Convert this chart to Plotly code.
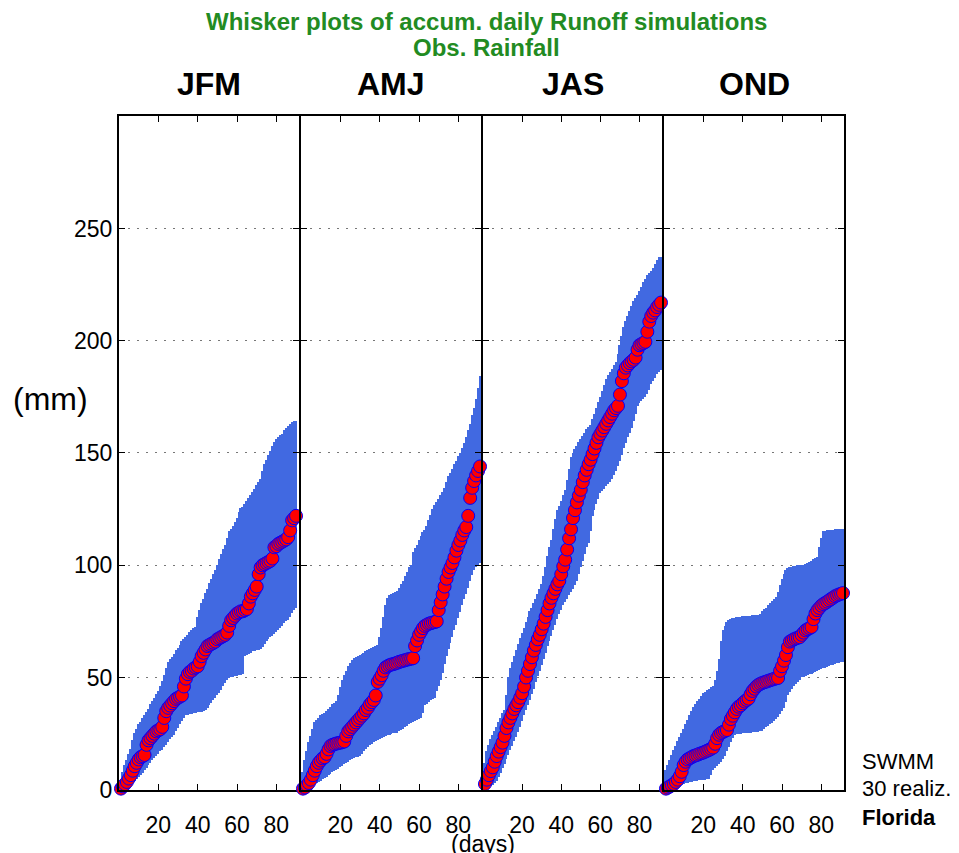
import plotly.graph_objects as go

# ---------------------------------------------------------------------------
# Accumulated daily runoff (mm): observed-rainfall run (OBS) and the
# min/max envelope (LO/HI) of the 30 SWMM realizations, one value per day.
# ---------------------------------------------------------------------------
SEASONS = ["JFM", "AMJ", "JAS", "OND"]

JFM_OBS = [0.5, 1.5, 2.5, 3.5, 5, 6.5, 8.5, 10.5, 12, 13.5, 14.5, 15, 15.5, 20, 22,
           23, 24, 25, 26, 26.5, 27, 28, 32, 35, 36.5, 37.5, 38.5, 39.5, 40.5, 41,
           41.5, 42, 46, 49.5, 51.5, 52.5, 53, 54, 54.5, 55, 57, 59.5, 61, 62.5, 64,
           64.5, 65, 65.5, 66, 67, 67.5, 68, 68.5, 69, 70, 73, 75.5, 76.5, 77.5, 78.5,
           79, 79.5, 79.5, 80, 80.5, 83, 86, 87.5, 89, 90.5, 96, 99, 100, 100.5, 101,
           101.5, 102, 103, 108, 108.5, 109.5, 110, 110.5, 111, 111.5, 112.5, 115.5, 120, 121, 122]
JFM_LO = [0, 0, 0.3, 0.6, 1, 2, 3, 4, 4.8, 5.5, 6.5, 7.5, 8.5, 9.5, 11,
          12, 13, 14, 15, 16, 17, 17.5, 19, 20, 21, 22.5, 23.5, 24.5, 26, 27.5,
          29, 30.5, 32, 33, 33, 33.5, 33.5, 34, 34, 34.5, 34.5, 34.5, 35, 35.5, 36.5,
          37.5, 38.5, 40, 41, 42, 43, 44.5, 46, 47.5, 49, 49.5, 50, 50, 50.5, 50.5,
          51, 51, 51.5, 59.5, 60, 60.5, 61, 61.5, 61.5, 62, 62, 62.5, 63.5, 65, 66,
          67, 68, 68.5, 69.5, 70, 71, 72, 73, 74, 75, 75.5, 77, 78.5, 80, 81]
JFM_HI = [4, 8, 11, 13, 16, 18, 22, 25, 27, 29, 30, 32, 33, 34.5, 36,
          38, 39.5, 41, 42.5, 44, 46, 48.5, 51, 54, 57, 58, 59, 60.5, 62, 63,
          64.5, 66, 67, 68, 69, 70, 71, 72, 72.5, 77, 80, 83, 85, 87.5, 89.5,
          92, 94, 96, 98, 100, 102.5, 105, 107, 109, 112, 115, 116, 117.5, 119, 121,
          123.5, 125.5, 126, 127, 128.5, 130, 131, 132.5, 134, 135.5, 137, 138.5, 142, 145, 147,
          149, 151, 153, 155, 156, 157, 158, 158.5, 160, 161, 162, 163, 163.5, 164, 164]

AMJ_OBS = [0.5, 1, 2, 3, 4.5, 6.5, 8.5, 10.5, 12, 13, 14, 14.5, 16, 18, 19.5,
           20, 20.3, 20.6, 20.8, 21, 21.2, 21.5, 24, 26, 27, 28, 29, 30, 31, 32,
           33, 34, 35.5, 36.5, 38, 39, 40, 42, 48, 49.5, 51, 53, 54.5, 55, 55.5,
           55.8, 56, 56.3, 56.6, 57, 57.2, 57.5, 57.7, 58, 58.2, 58.4, 58.6, 64, 66.5, 69,
           70.5, 72, 73, 73.5, 74, 74.2, 74.5, 74.7, 75, 80, 83.5, 87, 90.5, 94, 97,
           99, 101, 103.5, 106.5, 109, 111, 113.5, 115.5, 117, 122, 130, 134.5, 137.5, 140, 142, 144]
AMJ_LO = [0, 0, 0.5, 1.3, 1.8, 2.2, 2.6, 3, 3.5, 4, 4.5, 5, 5.8, 6.5, 7,
          7.7, 8.3, 8.7, 9.3, 10, 10.7, 11.3, 12, 12.5, 13, 13.5, 14, 14.3, 14.7, 15,
          16, 17, 18, 19, 20, 20.5, 21, 21.5, 22, 22.5, 23, 23.5, 24, 24.3, 24.5,
          24.8, 25, 25.2, 25.3, 26, 26.5, 27, 27.7, 28.4, 29, 29.5, 30, 30.5, 31, 31.5,
          32, 34, 37.6, 38.3, 39, 39.7, 40.3, 41, 44, 46, 49, 52, 56, 59.5, 62.5,
          65.5, 68, 71, 73.5, 76.5, 79, 82, 85, 87.3, 90, 93, 95.5, 98, 99, 100, 101]
AMJ_HI = [8, 13, 17, 21, 24, 27, 30, 31, 32, 33, 33.5, 34, 35, 36, 37,
          38, 38.5, 39.5, 42, 45.5, 49, 51, 53, 55, 56.5, 57.5, 58.5, 59, 59.5, 60,
          60.5, 61, 61.5, 62, 62.5, 63, 63.5, 64, 64.6, 68, 72, 77, 82, 85.5, 86.5,
          87, 87.5, 88, 88.6, 90, 91.5, 93, 95, 97, 99, 100, 106, 107.5, 109, 111,
          113, 114.5, 115.5, 117.5, 120, 122.5, 125, 126.6, 128, 129.5, 131, 132.5, 134.5, 137, 139.5,
          141, 143, 145, 146.5, 148.5, 150, 152, 154.5, 157, 160, 163, 167, 170, 174, 179, 184]

JAS_OBS = [2.6, 4.5, 6.5, 8.3, 10, 12.5, 15, 17, 19, 21, 24, 27.5, 30, 32, 34,
           36, 37.6, 39, 41, 43, 46, 50, 53, 56, 59, 62, 64.5, 67, 69, 71.5,
           74, 77, 80, 83, 85.5, 87.5, 89.5, 91.5, 93, 96, 99.5, 102.5, 107, 112, 116,
           121, 124.5, 128, 131, 133.6, 137, 140, 142.5, 145, 147, 149.5, 152, 154.5, 157, 158.5,
           160, 161.5, 163, 164.5, 166, 167.5, 169, 170, 171, 176, 182, 185.5, 188, 189, 190,
           190.8, 191.5, 192.5, 196, 198, 198.5, 199, 199.5, 204, 208.5, 211, 212.5, 213.5, 215, 216, 217]
JAS_LO = [0, 0.5, 1, 1.5, 2, 3, 4, 5.5, 7.5, 9.5, 11.5, 13.5, 15.5, 17.5, 19.6,
          21.5, 23.5, 25.8, 28, 30.5, 33, 35.4, 37.5, 40, 42.5, 45, 47.8, 50.5, 53, 55.5,
          58, 61, 64, 66, 68.5, 71, 73.5, 76, 78, 80, 82, 83.5, 85, 86.5, 88,
          89.5, 91, 93, 96, 99, 102, 105, 108, 110, 115, 122, 124.5, 127, 129.5, 132,
          133, 134, 135, 136, 137, 138.4, 140, 142, 144, 146.5, 149, 152, 154.5, 157, 159,
          161, 164, 167.5, 171, 172, 173, 174, 175, 176, 178, 180.6, 182, 183.5, 185, 186, 187]
JAS_HI = [12, 17, 20, 22.5, 24.5, 26, 28, 30, 32, 34, 35.5, 42, 50, 54, 57,
          59.5, 62, 65, 67.5, 69.6, 72, 74.5, 77, 79.5, 81, 83, 85, 87, 89.5, 91.5,
          95, 99, 104, 108, 111, 116, 120.5, 124.5, 126.5, 128.5, 131, 133.6, 138, 143, 148,
          150, 151.5, 153, 154.8, 156, 157.5, 159, 160.5, 161.5, 162.6, 165, 167.5, 170, 172.5, 175,
          177.5, 180, 183, 184.5, 186, 187.5, 189, 190.5, 194, 198, 202, 206, 208.5, 211, 213,
          215.5, 217.5, 219, 220.5, 222, 224, 226, 227.5, 229, 230, 231, 232.5, 234, 236, 237, 237]

OND_OBS = [0.5, 1, 1.5, 2, 2.6, 3.5, 4.5, 6, 8, 11, 12.5, 13.5, 14, 14.5, 15,
           15.3, 15.6, 16, 16.3, 16.6, 17, 17.4, 17.8, 18.3, 18.8, 20.5, 23, 24.5, 25.3, 25.8,
           26.2, 26.6, 29, 31.5, 33, 34.5, 36, 37, 37.6, 38.5, 39.3, 40, 40.6, 42.5, 44,
           45, 46, 46.7, 47.2, 47.6, 47.9, 48.2, 48.5, 48.8, 49.1, 49.4, 49.6, 49.8, 53, 55,
           57.5, 60, 63.5, 66, 66.5, 67, 67.4, 67.7, 68, 69, 70, 71, 71.5, 72, 72.5,
           76, 78.5, 80, 81, 82, 82.7, 83.2, 83.8, 84.4, 85, 85.6, 86.2, 86.6, 87, 87.3, 87.6]
OND_LO = [0, 0, 0, 0, 0.3, 0.6, 1, 1.5, 2, 2.5, 2.8, 3, 3.2, 3.4, 3.6,
          3.8, 4, 4.1, 4.2, 4.3, 4.4, 4.5, 4.6, 6.5, 8.7, 9.5, 10.5, 11.5, 12.5, 13.5,
          15, 17, 19, 21, 23, 24.5, 24.7, 24.8, 24.9, 25, 25.1, 25.2, 25.3, 25.4, 25.5,
          25.6, 25.7, 25.8, 25.9, 26, 27, 28, 28.5, 29, 29.8, 30.5, 31.5, 32.5, 33.5, 35,
          36.5, 39, 42, 43.5, 45, 46, 47, 48, 49, 50, 50.3, 50.6, 51, 51.3, 51.6,
          52, 52.4, 52.8, 53.2, 53.6, 54, 54.3, 54.6, 55, 55.3, 55.6, 55.9, 56.2, 56.4, 56.6, 56.8]
OND_HI = [8.7, 11, 13, 15.5, 17.5, 19.5, 21.5, 23.5, 25, 27, 29, 31, 33, 35, 37,
          38, 39.5, 40.5, 41.5, 42.8, 43.5, 44.3, 45, 45.7, 46.3, 49, 53, 58, 66, 71,
          73, 74.5, 75.5, 76, 76.4, 76.6, 76.8, 77, 77, 77.2, 77.3, 77.4, 77.5, 77.5, 77.6,
          77.6, 77.7, 77.7, 78, 79.5, 80.5, 81, 82, 83, 84, 85, 85.6, 88, 91, 94,
          96, 98, 98.5, 99, 99.3, 99.5, 99.7, 99.9, 100, 100.1, 100.2, 100.4, 101, 101.5, 102,
          102.5, 103, 103.5, 108, 112, 115, 115.3, 115.5, 115.6, 115.7, 115.8, 115.9, 116, 116, 116, 116]

SERIES = {
    "JFM": (JFM_OBS, JFM_LO, JFM_HI),
    "AMJ": (AMJ_OBS, AMJ_LO, AMJ_HI),
    "JAS": (JAS_OBS, JAS_LO, JAS_HI),
    "OND": (OND_OBS, OND_LO, OND_HI),
}

Y_TICKS = [0, 50, 100, 150, 200, 250]
X_TICKS = [20, 40, 60, 80]

# ---------------------------------------------------------------------------
# Page geometry (pixels) and styling
# ---------------------------------------------------------------------------
W, H = 959, 853
EDGES = [118, 300, 482, 663, 845]   # panel border lines
TOP, BOTTOM = 117, 803
LW = 2                              # border line width
FONT = "Liberation Sans, Arial, Helvetica, sans-serif"
BAND = "#4169E1"
TITLE_GREEN = "#228B22"


def px_x(v):
    return v / W


def px_y(v):
    return 1 - v / H


fig = go.Figure()
layout = {}

for i, season in enumerate(SEASONS):
    obs, lo, hi = SERIES[season]
    days = list(range(1, len(obs) + 1))
    n = "" if i == 0 else str(i + 1)
    xa, ya = "x" + n, "y" + n

    fig.add_trace(go.Bar(
        x=days, y=[h - l for h, l in zip(hi, lo)], base=lo, width=1,
        marker=dict(color=BAND, line=dict(width=0)),
        xaxis=xa, yaxis=ya, showlegend=False, hoverinfo="skip",
    ))
    fig.add_trace(go.Scatter(
        x=days, y=obs, mode="markers", cliponaxis=False,
        marker=dict(size=13, color="#FF0000", line=dict(color="#0000FF", width=1)),
        xaxis=xa, yaxis=ya, showlegend=False,
    ))

    # axis lines sit half a line width outside the domain, so neighbouring
    # panels share one border line
    layout["xaxis" + n] = dict(
        domain=[px_x(EDGES[i] + LW / 2), px_x(EDGES[i + 1] - LW / 2)], anchor=ya,
        range=[0, 91.5], tickvals=X_TICKS, ticks="inside", ticklen=6,
        tickcolor="black", showline=True, linecolor="black", linewidth=LW,
        mirror="ticks", showgrid=False, zeroline=False, ticklabelstandoff=14,
        tickfont=dict(family=FONT, size=23, color="black"),
    )
    layout["yaxis" + n] = dict(
        domain=[px_y(BOTTOM - LW / 2), px_y(TOP + LW / 2)], anchor=xa,
        range=[0, 300], tickvals=Y_TICKS, ticks="inside", ticklen=6,
        tickcolor="black", showline=True, linecolor="black", linewidth=LW,
        mirror="ticks", showgrid=True, gridcolor="#777777", gridwidth=1,
        griddash="2px,7px", zeroline=False, showticklabels=(i == 0),
        tickfont=dict(family=FONT, size=23, color="black"),
    )

annotations = [
    dict(text="<b>Whisker plots of accum. daily Runoff simulations</b>", x=486, y=22,
         size=24, color=TITLE_GREEN),
    dict(text="<b>Obs. Rainfall</b>", x=486, y=48, size=24, color=TITLE_GREEN),
    dict(text="(mm)", x=50, y=405, size=32, color="black"),
    dict(text="(days)", x=483, y=857, size=23, color="black"),
]
for i, season in enumerate(SEASONS):
    annotations.append(dict(text="<b>%s</b>" % season, x=(EDGES[i] + EDGES[i + 1]) / 2,
                            y=85, size=32, color="black"))

ann = [
    dict(text=a["text"], x=px_x(a["x"]), y=px_y(a["y"]), xref="paper", yref="paper",
         xanchor="center", yanchor="middle", showarrow=False,
         font=dict(family=FONT, size=a["size"], color=a["color"]))
    for a in annotations
]
for txt, yy in [("SWMM", 773), ("30 realiz.", 801), ("<b>Florida</b>", 830)]:
    ann.append(dict(text=txt, x=px_x(860), y=px_y(yy), xref="paper", yref="paper",
                    xanchor="left", yanchor="middle", showarrow=False,
                    font=dict(family=FONT, size=22, color="black")))

fig.update_layout(
    width=W, height=H, margin=dict(l=0, r=0, t=0, b=0),
    paper_bgcolor="white", plot_bgcolor="white",
    barmode="overlay", bargap=0, showlegend=False,
    annotations=ann, **layout,
)

fig.write_html("out.html")
